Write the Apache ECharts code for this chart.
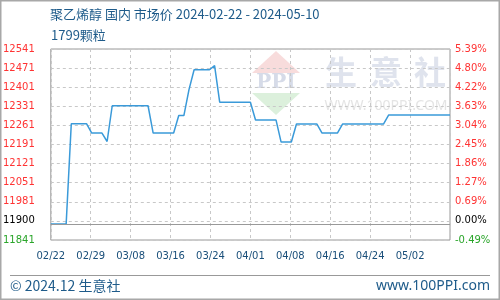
<!DOCTYPE html>
<html><head><meta charset="utf-8">
<script src="https://cdn.jsdelivr.net/npm/echarts@6/dist/echarts.min.js"></script>
<style>html,body{margin:0;padding:0;background:#fff}#c{width:500px;height:300px}</style>
</head><body><div id="c"></div>
<script>
const dates = [
 '2024-02-22','2024-02-23','2024-02-24','2024-02-25','2024-02-26','2024-02-27','2024-02-28','2024-02-29',
 '2024-03-01','2024-03-02','2024-03-03','2024-03-04','2024-03-05','2024-03-06','2024-03-07','2024-03-08',
 '2024-03-09','2024-03-10','2024-03-11','2024-03-12','2024-03-13','2024-03-14','2024-03-15','2024-03-16',
 '2024-03-17','2024-03-18','2024-03-19','2024-03-20','2024-03-21','2024-03-22','2024-03-23','2024-03-24',
 '2024-03-25','2024-03-26','2024-03-27','2024-03-28','2024-03-29','2024-03-30','2024-03-31','2024-04-01',
 '2024-04-02','2024-04-03','2024-04-04','2024-04-05','2024-04-06','2024-04-07','2024-04-08','2024-04-09',
 '2024-04-10','2024-04-11','2024-04-12','2024-04-13','2024-04-14','2024-04-15','2024-04-16','2024-04-17',
 '2024-04-18','2024-04-19','2024-04-20','2024-04-21','2024-04-22','2024-04-23','2024-04-24','2024-04-25',
 '2024-04-26','2024-04-27','2024-04-28','2024-04-29','2024-04-30','2024-05-01','2024-05-02','2024-05-03',
 '2024-05-04','2024-05-05','2024-05-06','2024-05-07','2024-05-08','2024-05-09','2024-05-10'
];
const prices = [
 11900,11900,11900,11900,
 12267,12267,12267,12267,
 12233,12233,12233,
 12202,
 12333,12333,12333,12333,12333,12333,12333,12333,
 12233,12233,12233,12233,12233,
 12297,12297,
 12392,
 12465,12465,12465,12465,
 12480,
 12346,12346,12346,12346,12346,12346,12346,
 12281,12281,12281,12281,12281,
 12200,12200,12200,
 12266,12266,12266,12266,12266,
 12233,12233,12233,12233,
 12266,12266,12266,12266,12266,12266,12266,12266,12266,
 12299,12299,12299,12299,12299,12299,12299,12299,12299,12299,12299,12299,12299
];
const xTickLabels = ['02/22','02/29','03/08','03/16','03/24','04/01','04/08','04/16','04/24','05/02'];
const leftTickLabels = ['11841','11900','11981','12051','12121','12191','12261','12331','12401','12471','12541'];
const rightTickLabels = ['-0.49%','0.00%','0.69%','1.27%','1.86%','2.45%','3.04%','3.63%','4.22%','4.80%','5.39%'];
const basePrice = 11900;
const yMin = 11841, yMax = 12541;

const chart = echarts.init(document.getElementById('c'), null, {renderer:'canvas'});
const lastIdx = dates.length - 1;
const xStep = lastIdx / 10;
const tickColor = (v) => { const i = Math.round(v); return i === 0 ? '#2aa52a' : (i === 1 ? '#000000' : '#ff3333'); };
const blue = '#1e5b8a';
const wmZ = -10;

chart.setOption({
  animation: false,
  grid: {left: 50, right: 50, top: 49, bottom: 60, show: true, borderColor: '#999', borderWidth: 1, backgroundColor: 'transparent'},
  xAxis: {
    type: 'value', min: 0, max: lastIdx, interval: xStep,
    axisLine: {show: false}, axisTick: {show: false},
    splitLine: {show: true, lineStyle: {color: '#c8c8c8', type: [3, 3], width: 1}},
    axisLabel: {
      color: '#1a4f7a', fontSize: 10, fontFamily: 'DejaVu Sans', margin: 11,
      formatter: (v) => xTickLabels[Math.round(v / xStep)] || ''
    }
  },
  yAxis: [
    {type: 'value', min: yMin, max: yMax, show: false},
    {type: 'value', min: 0, max: 10, interval: 1, position: 'left',
     axisLine: {show: false}, axisTick: {show: false},
     splitLine: {show: true, lineStyle: {color: '#c8c8c8', type: [3, 3], width: 1}},
     axisLabel: {fontSize: 10, fontFamily: 'DejaVu Sans', margin: 16, color: tickColor,
       formatter: (v) => leftTickLabels[Math.round(v)]}},
    {type: 'value', min: 0, max: 10, interval: 1, position: 'right',
     axisLine: {show: false}, axisTick: {show: false}, splitLine: {show: false},
     axisLabel: {fontSize: 10, fontFamily: 'DejaVu Sans', margin: 5, color: tickColor,
       formatter: (v) => rightTickLabels[Math.round(v)]}}
  ],
  series: [{
    type: 'line', yAxisIndex: 0, showSymbol: false, symbol: 'none',
    data: prices.map((v, i) => [i, v]),
    lineStyle: {color: '#3a9ad9', width: 1.5},
    markLine: {silent: true, symbol: 'none', label: {show: false},
      lineStyle: {color: '#999', type: 'solid', width: 1},
      data: [{yAxis: basePrice}]}
  }],
  graphic: [
    {type: 'rect', z: 100, silent: true, shape: {x: 0.5, y: 0.5, width: 499, height: 299},
     style: {fill: 'none', stroke: '#a8a8a8', lineWidth: 2}},
    // watermark
    {type: 'polygon', z: wmZ, silent: true, shape: {points: [[252, 73], [300, 73], [276, 51]]}, style: {fill: '#f8dcdc'}},
    {type: 'polygon', z: wmZ, silent: true, shape: {points: [[252, 93], [300, 93], [276, 115]]}, style: {fill: '#dcf0dc'}},
    {type: 'text', z: wmZ, silent: true, x: 276, y: 83, style: {text: 'PPI', font: 'bold 20px "DejaVu Serif"', fill: '#d6dbe8', align: 'center', verticalAlign: 'middle'}},
    {type: 'text', z: wmZ, silent: true, x: 341, y: 72, style: {text: '生', font: 'bold 32px "Noto Sans CJK SC"', fill: '#dfe3ed', align: 'center', verticalAlign: 'middle'}},
    {type: 'text', z: wmZ, silent: true, x: 386, y: 72, style: {text: '意', font: 'bold 32px "Noto Sans CJK SC"', fill: '#dfe3ed', align: 'center', verticalAlign: 'middle'}},
    {type: 'text', z: wmZ, silent: true, x: 430, y: 72, style: {text: '社', font: 'bold 32px "Noto Sans CJK SC"', fill: '#dfe3ed', align: 'center', verticalAlign: 'middle'}},
    {type: 'text', z: wmZ, silent: true, x: 386, y: 106, style: {text: 'WWW.100PPI.COM', font: '14px "Noto Sans"', fill: '#e4e4e4', align: 'center', verticalAlign: 'middle'}},
    // title
    {type: 'text', x: 50, y: 14, style: {text: '聚乙烯醇 国内 市场价 2024-02-22 - 2024-05-10', font: '13px "Noto Sans CJK SC"', fill: blue, verticalAlign: 'middle'}},
    {type: 'text', x: 51, y: 35, style: {text: '1799颗粒', font: '13px "Noto Sans CJK SC"', fill: blue, verticalAlign: 'middle'}},
    // footer
    {type: 'line', silent: true, shape: {x1: 10, y1: 275.5, x2: 490, y2: 275.5}, style: {stroke: '#999', lineWidth: 1}},
    {type: 'text', x: 10, y: 286, style: {text: '© 2024.12 生意社', font: '14px "Noto Sans CJK SC"', fill: blue, verticalAlign: 'middle'}},
    {type: 'text', x: 490, y: 286, style: {text: 'www.100PPI.com', font: '14px "Noto Sans"', fill: blue, align: 'right', verticalAlign: 'middle'}}
  ]
});
</script></body></html>
